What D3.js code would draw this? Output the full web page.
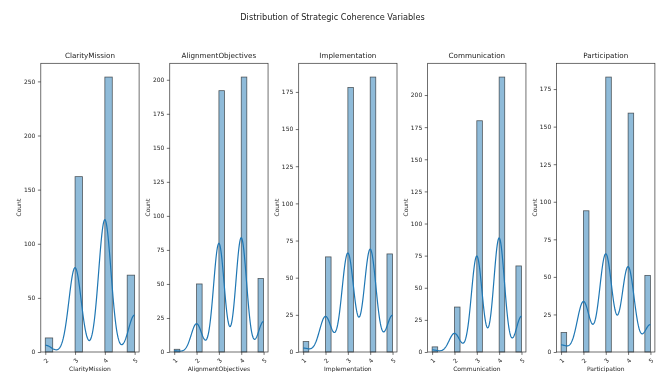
<!DOCTYPE html>
<html>
<head>
<meta charset="utf-8">
<script src="https://cdn.jsdelivr.net/npm/d3@7"></script>
<style>
  html, body { margin: 0; padding: 0; background: #fff; }
  svg { display: block; font-family: "DejaVu Sans", sans-serif; }
  text { -webkit-font-smoothing: antialiased; }
</style>
</head>
<body>
<svg id="chart" width="659" height="372" style="will-change: transform; opacity: 0.999;"></svg>
<script>
// ---- Data ----
const figureTitle = "Distribution of Strategic Coherence Variables";
const variables = ["ClarityMission", "AlignmentObjectives", "Implementation", "Communication", "Participation"];
const levels = [1, 2, 3, 4, 5];
// counts per response level (1..5); null = level not present
const clarityCounts        = [null, 13, 162, 254, 71];
const alignmentCounts      = [2, 50, 192, 202, 54];
const implementationCounts = [7, 64, 178, 185, 66];
const communicationCounts  = [4, 35, 180, 214, 67];
const participationCounts  = [13, 94, 183, 159, 51];
const allCounts = [clarityCounts, alignmentCounts, implementationCounts, communicationCounts, participationCounts];
// y tick labels per panel
const yTicksClarity        = [0, 50, 100, 150, 200, 250];
const yTicksAlignment      = [0, 25, 50, 75, 100, 125, 150, 175, 200];
const yTicksImplementation = [0, 25, 50, 75, 100, 125, 150, 175];
const yTicksCommunication  = [0, 25, 50, 75, 100, 125, 150, 175, 200];
const yTicksParticipation  = [0, 25, 50, 75, 100, 125, 150, 175];
const allYTicks = [yTicksClarity, yTicksAlignment, yTicksImplementation, yTicksCommunication, yTicksParticipation];
const binWidth = 0.25;

// ---- Layout ----
const svg = d3.select("#chart");
const W = 659, H = 372;
const panelLeft0 = 40.8, panelStep = 128.95, panelW = 98.3;
const panelTop = 63.3, panelBottom = 352;
const barFill = "rgba(31,119,180,0.5)";
const lineColor = "#1f77b4";
const textColor = "#222";

svg.append("text")
  .attr("x", W / 2 + 3).attr("y", 19.5)
  .attr("text-anchor", "middle")
  .attr("font-size", 8.2)
  .attr("fill", textColor)
  .text(figureTitle);

// Gaussian KDE (Scott's rule), as seaborn's histplot(kde=True) computes it
function kdeCurve(values, lo, hi, n) {
  const N = values.length;
  const sd = d3.deviation(values);
  const bw = sd * Math.pow(N, -1 / 5);
  const norm = 1 / (N * bw * Math.sqrt(2 * Math.PI));
  const grid = d3.range(n).map(i => lo + (hi - lo) * i / (n - 1));
  const valCounts = d3.rollups(values, v => v.length, d => d);
  return grid.map(x => {
    let s = 0;
    for (const [v, c] of valCounts) {
      const z = (x - v) / bw;
      s += c * Math.exp(-0.5 * z * z);
    }
    return [x, s * norm];
  });
}

variables.forEach((name, i) => {
  const counts = allCounts[i];
  const values = [];
  levels.forEach((lv, j) => {
    if (counts[j] != null) for (let k = 0; k < counts[j]; k++) values.push(lv);
  });
  const lo = d3.min(values), hi = d3.max(values);
  const thresholds = d3.range(lo + binWidth, hi - 1e-9, binWidth);
  const bins = d3.bin().domain([lo, hi]).thresholds(thresholds)(values);
  const N = values.length;
  const kde = kdeCurve(values, lo, hi, 200).map(([x, d]) => [x, d * N * binWidth]);

  const span = hi - lo;
  const x0 = panelLeft0 + i * panelStep;
  const x = d3.scaleLinear().domain([lo - 0.05 * span, hi + 0.05 * span]).range([x0, x0 + panelW]);
  const yMax = Math.max(d3.max(bins, b => b.length), d3.max(kde, d => d[1])) * 1.05;
  const y = d3.scaleLinear().domain([0, yMax]).range([panelBottom, panelTop]);

  const g = svg.append("g");

  // bars
  g.selectAll("rect.bar")
    .data(bins.filter(b => b.length > 0))
    .join("rect")
    .attr("class", "bar")
    .attr("x", b => x(b.x0))
    .attr("width", b => x(b.x1) - x(b.x0))
    .attr("y", b => y(b.length))
    .attr("height", b => y(0) - y(b.length))
    .attr("fill", barFill)
    .attr("stroke", "rgba(0,0,0,0.6)")
    .attr("stroke-width", 0.8);

  // KDE line
  g.append("path")
    .datum(kde)
    .attr("fill", "none")
    .attr("stroke", lineColor)
    .attr("stroke-width", 1.2)
    .attr("d", d3.line().x(d => x(d[0])).y(d => y(d[1])));

  // axes
  const yAxis = d3.axisLeft(y).tickValues(allYTicks[i]).tickSize(2.9).tickPadding(2.5).tickFormat(d3.format("d"));
  const ya = g.append("g").attr("transform", `translate(${x0},0)`).call(yAxis);
  ya.select(".domain").remove();
  ya.selectAll(".tick line").attr("stroke", "#333").attr("stroke-width", 0.7);
  ya.selectAll(".tick text").attr("font-size", 6).attr("fill", textColor).attr("font-family", "DejaVu Sans");

  const xTickVals = levels.filter(v => v >= lo && v <= hi);
  const xAxis = d3.axisBottom(x).tickValues(xTickVals).tickSize(2.9).tickFormat(d3.format("d"));
  const xa = g.append("g").attr("transform", `translate(0,${panelBottom})`).call(xAxis);
  xa.select(".domain").remove();
  xa.selectAll(".tick line").attr("stroke", "#333").attr("stroke-width", 0.7);
  xa.selectAll(".tick text")
    .attr("font-size", 6).attr("fill", textColor).attr("font-family", "DejaVu Sans")
    .attr("y", 0).attr("dy", null)
    .attr("text-anchor", "middle")
    .attr("dominant-baseline", "central")
    .attr("transform", "translate(0,8.3) rotate(-45)");

  // frame
  g.append("rect")
    .attr("x", x0).attr("y", panelTop)
    .attr("width", panelW).attr("height", panelBottom - panelTop)
    .attr("fill", "none").attr("stroke", "#333").attr("stroke-width", 0.7);

  // titles / labels
  g.append("text")
    .attr("x", x0 + panelW / 2).attr("y", 58)
    .attr("text-anchor", "middle").attr("font-size", 7.2).attr("fill", textColor)
    .text(name);
  g.append("text")
    .attr("x", x0 + panelW / 2).attr("y", 370.5)
    .attr("text-anchor", "middle").attr("font-size", 6).attr("fill", textColor)
    .text(name);
  const ylabX = x0 - 20;
  g.append("text")
    .attr("transform", `translate(${ylabX},${(panelTop + panelBottom) / 2}) rotate(-90)`)
    .attr("text-anchor", "middle").attr("font-size", 6).attr("fill", textColor)
    .text("Count");
});
</script>
</body>
</html>
